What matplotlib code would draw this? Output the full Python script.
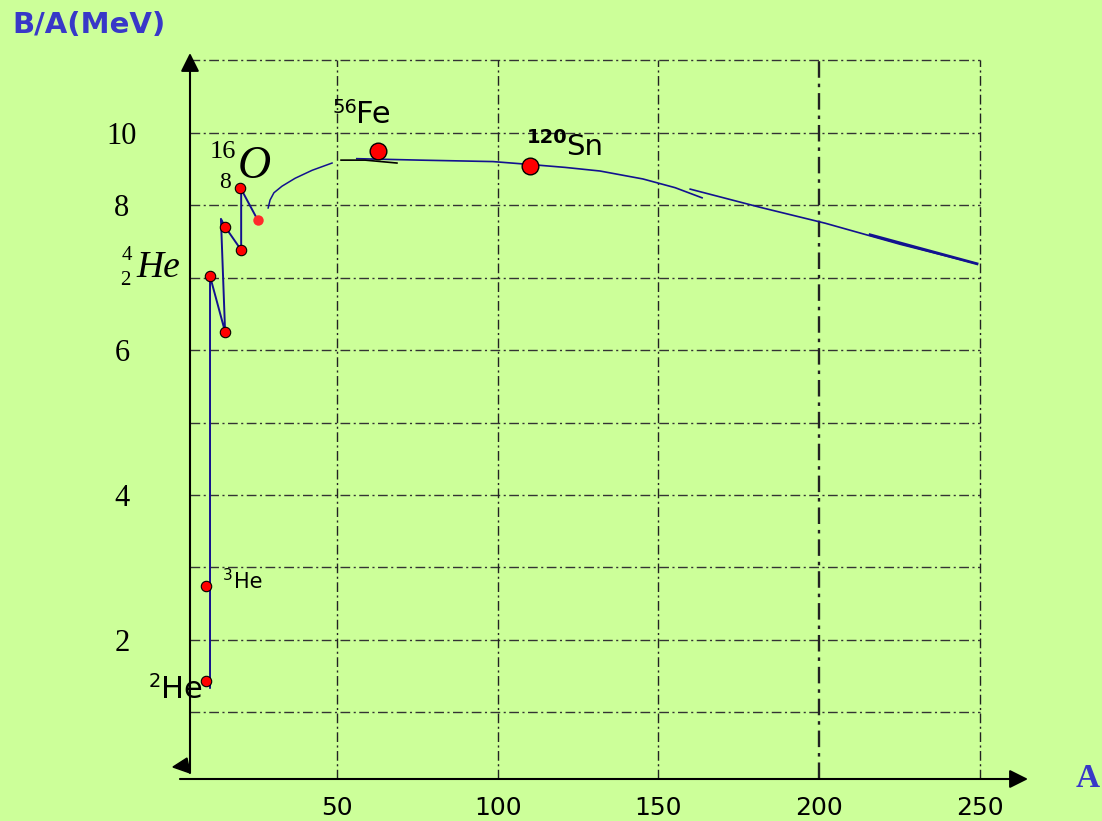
import matplotlib
matplotlib.use('Agg')
import matplotlib.pyplot as plt
from matplotlib.patches import Polygon

W, H = 1102, 821

# 数据点 (质量数 A, 每核子结合能 B/A)
light_A = [9.2, 9.2, 10.4, 15.1, 15.1, 20.1, 19.8]
light_BA = [1.43, 2.74, 7.02, 6.25, 7.70, 7.38, 8.24]
faint_A = [25.3]
faint_BA = [7.79]
heavy_A = [62.7, 110.0]
heavy_BA = [8.75, 8.54]

# 手绘曲线
zig_A = [10.4, 10.4, 15.1, 13.8, 15.1, 20.1, 20.1, 25.3]
zig_BA = [1.34, 7.02, 6.25, 7.81, 7.70, 7.38, 8.22, 7.79]
rise_A = [28.5, 29.1, 30.3, 32.8, 36.9, 42.2, 48.4]
rise_BA = [7.96, 8.07, 8.17, 8.26, 8.37, 8.48, 8.58]
tan_A = [51.2, 58.7, 68.6]
tan_BA = [8.62, 8.62, 8.58]
mid_A = [56.1, 75.8, 98.5, 110.0, 120.9, 131.8, 145.2, 155.2, 163.6]
mid_BA = [8.64, 8.62, 8.60, 8.56, 8.52, 8.47, 8.36, 8.24, 8.10]
tail_A = [159.9, 181.6, 201.9, 225.2, 249.2]
tail_BA = [8.22, 7.97, 7.75, 7.46, 7.19]
thick_A = [215.9, 249.2]
thick_BA = [7.59, 7.19]

x_ticks = [50, 100, 150, 200, 250]
y_ticks = [2, 4, 6, 8, 9]
y_labels = ['2', '4', '6', '8', '10']
grid_y = [1, 2, 3, 4, 5, 6, 7, 8, 9, 10]

bg = '#ccff99'
blue = '#12128f'
serif = 'Liberation Serif'

fig = plt.figure(figsize=(W / 100, H / 100), dpi=100)
fig.patch.set_facecolor(bg)
ax = fig.add_axes([190 / W, 42 / H, 838 / W, 726 / H])
ax.set_facecolor(bg)
ax.set_xlim(4.17, 265.07)
ax.set_ylim(0.082, 10.098)
for s in ax.spines.values():
    s.set_visible(False)

# 网格
dash = (0, (7, 2.5, 1.5, 2.5))
ax.hlines(grid_y, 4.17, 250, colors='#333333', linestyles=[dash], lw=1.0)
for xv in x_ticks:
    ax.vlines(xv, 0.082, 10, colors='#222222', linestyles=[dash],
              lw=1.7 if xv == 200 else 1.0)

# 坐标轴
ax.annotate('', xy=(1.0, 0), xytext=(-0.012, 0), xycoords='axes fraction',
            arrowprops=dict(arrowstyle='-|>', color='black', lw=1.5, mutation_scale=28,
                            shrinkA=0, shrinkB=0))
ax.annotate('', xy=(0, 1.0), xytext=(0, 0.0083), xycoords='axes fraction',
            arrowprops=dict(arrowstyle='-|>', color='black', lw=1.5, mutation_scale=28,
                            shrinkA=0, shrinkB=0))
ax.add_patch(Polygon([(-0.0203, 0.0165), (-0.0036, 0.0289), (0, 0.0083)],
                     closed=True, color='black', transform=ax.transAxes, clip_on=False))

ax.set_xticks(x_ticks)
ax.set_xticklabels([str(v) for v in x_ticks], fontsize=18)
ax.set_yticks(y_ticks)
ax.set_yticklabels(y_labels, fontsize=22, family=serif, ha='center')
ax.tick_params(axis='x', length=0, pad=12)
ax.tick_params(axis='y', length=0, pad=49)

# 曲线
ax.plot(zig_A, zig_BA, color=blue, lw=1.4)
ax.plot(rise_A, rise_BA, color=blue, lw=1.1)
ax.plot(mid_A, mid_BA, color=blue, lw=1.2)
ax.plot(tail_A, tail_BA, color=blue, lw=1.2)
ax.plot(thick_A, thick_BA, color=blue, lw=2.0)
ax.plot(tan_A, tan_BA, color='black', lw=1.2)

# 点
ax.plot(light_A, light_BA, 'o', color='red', mec='black', mew=0.8, ms=7.5)
ax.plot(faint_A, faint_BA, 'o', color='#ff2a2a', mew=0, ms=7.5)
ax.plot(heavy_A, heavy_BA, 'o', color='red', mec='black', mew=1.0, ms=12)


def t(x, y, s, **kw):
    fig.text(x / W, 1 - y / H, s, **kw)


t(12, 25, 'B/A(MeV)', fontsize=21, weight='bold', color='#3838c8', va='center')
t(1076, 787, 'A', fontsize=24, weight='bold', color='#3838c8', family=serif, va='baseline')

t(332, 113, '56', fontsize=14, va='baseline')
t(356, 123, 'Fe', fontsize=22, va='baseline')
t(527, 143, '120', fontsize=14, weight='bold', va='baseline')
t(566, 155, 'Sn', fontsize=21, va='baseline')
t(223, 580, '3', fontsize=11, va='baseline')
t(234, 588, 'He', fontsize=15, va='baseline')
t(149, 687, '2', fontsize=14, va='baseline')
t(161, 698, 'He', fontsize=22, va='baseline')

t(122, 260, '4', fontsize=15, family=serif, va='baseline')
t(120, 285, '2', fontsize=15, family=serif, va='baseline')
t(136, 277, 'He', fontsize=27, family=serif, style='italic', va='baseline')
t(210, 158, '16', fontsize=19, family=serif, va='baseline')
t(219, 188, '8', fontsize=17, family=serif, va='baseline')
t(238, 178, 'O', fontsize=33, family=serif, style='italic', va='baseline')

fig.savefig('out.png', dpi=100, facecolor=bg)
